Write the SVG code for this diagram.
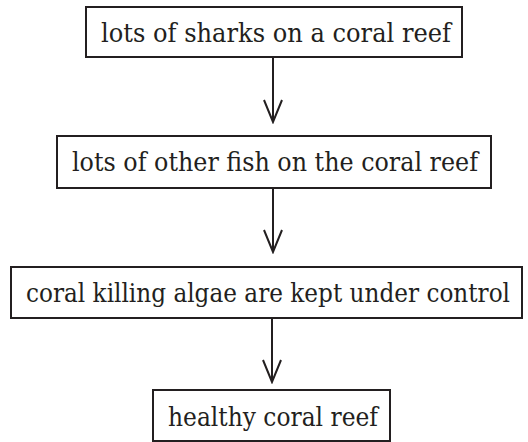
<svg xmlns="http://www.w3.org/2000/svg" width="528" height="442" viewBox="0 0 528 442">
<style>
.box{fill:#fff;stroke:#231f20;stroke-width:2}
.t{font-family:"DejaVu Serif","Liberation Serif","Times New Roman",serif;font-size:26px;fill:#231f20;text-anchor:middle}
.c{stroke:#231f20;stroke-width:2;fill:none}
</style>
<defs>
<marker id="v" markerWidth="26" markerHeight="20" refX="24" refY="10" orient="auto" markerUnits="userSpaceOnUse" viewBox="0 0 26 20">
<path d="M2,1 L24,10 L2,19" fill="none" stroke="#231f20" stroke-width="2"/>
</marker>
</defs>
<g id="connectors">
<line class="c" x1="273" y1="58" x2="273" y2="122" marker-end="url(#v)"/>
<line class="c" x1="273" y1="188" x2="273" y2="252" marker-end="url(#v)"/>
<line class="c" x1="272" y1="318" x2="272" y2="382" marker-end="url(#v)"/>
</g>
<g id="n1"><rect class="box" x="86" y="7" width="376" height="50"/><text class="t" x="276" y="42" textLength="350" lengthAdjust="spacingAndGlyphs">lots of sharks on a coral reef</text></g>
<g id="n2"><rect class="box" x="57" y="136" width="434" height="52"/><text class="t" x="275" y="171" textLength="406" lengthAdjust="spacingAndGlyphs">lots of other fish on the coral reef</text></g>
<g id="n3"><rect class="box" x="11" y="267" width="511" height="51"/><text class="t" x="268" y="302" textLength="484" lengthAdjust="spacingAndGlyphs">coral killing algae are kept under control</text></g>
<g id="n4"><rect class="box" x="153" y="390" width="237" height="51"/><text class="t" x="273" y="426" textLength="210" lengthAdjust="spacingAndGlyphs">healthy coral reef</text></g>
</svg>
